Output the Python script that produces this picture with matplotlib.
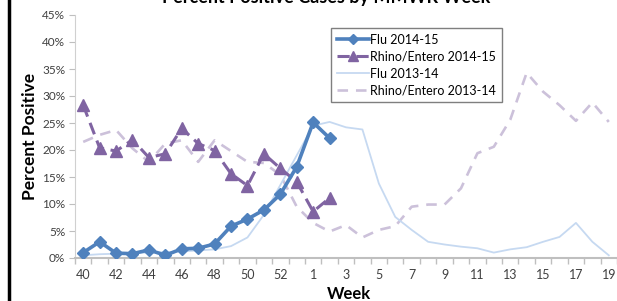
import matplotlib
matplotlib.use("Agg")
import matplotlib.pyplot as plt
from matplotlib.lines import Line2D
from matplotlib.ticker import FixedLocator, FuncFormatter

plt.rcParams['font.family'] = ['Lato', 'DejaVu Sans']

# MMWR weeks 40..53 then 1..19
weeks = list(range(40, 54)) + list(range(1, 20))
tick_labels = [str(w) if i % 2 == 0 else '' for i, w in enumerate(weeks)]

flu_1415 = [1.0, 3.0, 0.9, 0.8, 1.5, 0.5, 1.7, 1.8, 2.6, 5.9, 7.2, 8.9, 11.8, 16.9, 25.1, 22.2]
rhino_1415 = [28.3, 20.4, 19.8, 21.9, 18.6, 19.3, 24.0, 21.2, 19.9, 15.6, 13.4, 19.3, 16.6, 14.1, 8.6, 11.1]
flu_1314 = [0.5, 0.7, 0.8, 0.9, 1.0, 1.1, 1.2, 1.4, 1.6, 2.2, 3.8, 8.0, 13.5, 19.0, 24.5, 25.2,
            24.2, 23.8, 13.8, 7.6, 5.2, 3.0, 2.5, 2.1, 1.8, 1.0, 1.6, 2.0, 3.0, 3.9, 6.5, 3.0, 0.5]
rhino_1314 = [21.5, 22.8, 23.7, 20.3, 17.8, 21.2, 21.8, 17.8, 21.8, 19.8, 17.8, 17.6, 15.4, 9.5,
              6.5, 4.9, 6.1, 3.8, 5.2, 5.9, 9.5, 9.9, 9.9, 12.9, 19.4, 20.6, 25.6, 34.3, 30.8,
              28.3, 25.4, 28.8, 25.2]

W, H = 617, 301
fig = plt.figure(figsize=(W / 100, H / 100), dpi=100)
ax = fig.add_axes([75 / W, 1 - 258 / H, (W - 75) / W, (258 - 15) / H])

x = list(range(len(weeks)))
ax.plot(x, rhino_1314, color='#ccc1da', lw=1.9, dashes=(4, 3), label='Rhino/Entero 2013-14', zorder=2)
ax.plot(x, flu_1314, color='#c6d9f1', lw=1.3, label='Flu 2013-14', zorder=2)
ax.plot(x[:len(rhino_1415)], rhino_1415, color='#8064a2', lw=2.2, dashes=(4, 2.2),
        marker='^', ms=8, label='Rhino/Entero 2014-15', zorder=3)
ax.plot(x[:len(flu_1415)], flu_1415, color='#4f81bd', lw=2.6,
        marker='D', ms=6, label='Flu 2014-15', zorder=4)

ax.set_xlim(-0.5, len(weeks) - 0.5)
ax.set_ylim(0, 45)
ax.set_xticks(x)
ax.set_xticklabels(tick_labels)
ax.xaxis.set_minor_locator(FixedLocator([i - 0.5 for i in range(len(weeks) + 1)]))
ax.tick_params(axis='x', which='major', length=0, labelsize=9, colors='#404040', pad=8)
ax.tick_params(axis='x', which='minor', length=4, color='#bfbfbf', width=1)
ax.set_yticks(range(0, 46, 5))
ax.yaxis.set_major_formatter(FuncFormatter(lambda v, p: f'{int(v)}%'))
ax.tick_params(axis='y', length=4, color='#bfbfbf', labelsize=8.5, labelcolor='#404040', pad=3)

for s in ['top', 'right']:
    ax.spines[s].set_visible(False)
ax.spines['left'].set_color('#d0d0d0')
ax.spines['bottom'].set_color('#bfbfbf')
ax.spines['bottom'].set_linewidth(1.5)

ax.set_ylabel('Percent Positive', fontsize=12.5, fontweight='bold', labelpad=3)
fig.text(349 / W, 1 - 294 / H, 'Week', ha='center', va='center',
         fontsize=12, fontweight='bold')

handles, labels = ax.get_legend_handles_labels()
order = [3, 2, 1, 0]
leg = ax.legend([handles[i] for i in order], [labels[i] for i in order],
                loc='upper left', bbox_to_anchor=(331 / W, 1 - 28 / H),
                bbox_transform=fig.transFigure, borderaxespad=0, fontsize=9,
                handlelength=2.6, handletextpad=0.1, labelspacing=0.4,
                fancybox=False, framealpha=1, borderpad=0.45, markerscale=0.85)
leg.get_frame().set_edgecolor('#7f7f7f')
leg.get_frame().set_linewidth(1)

fig.text(326 / W, 1 - 3 / H, 'Percent Positive Cases by MMWR Week', ha='center', va='baseline',
         fontsize=13, fontweight='bold')

fig.add_artist(Line2D([9 / W, 9 / W], [0, 1], transform=fig.transFigure, color='black', lw=2.5))

fig.savefig('out.png', dpi=100)
